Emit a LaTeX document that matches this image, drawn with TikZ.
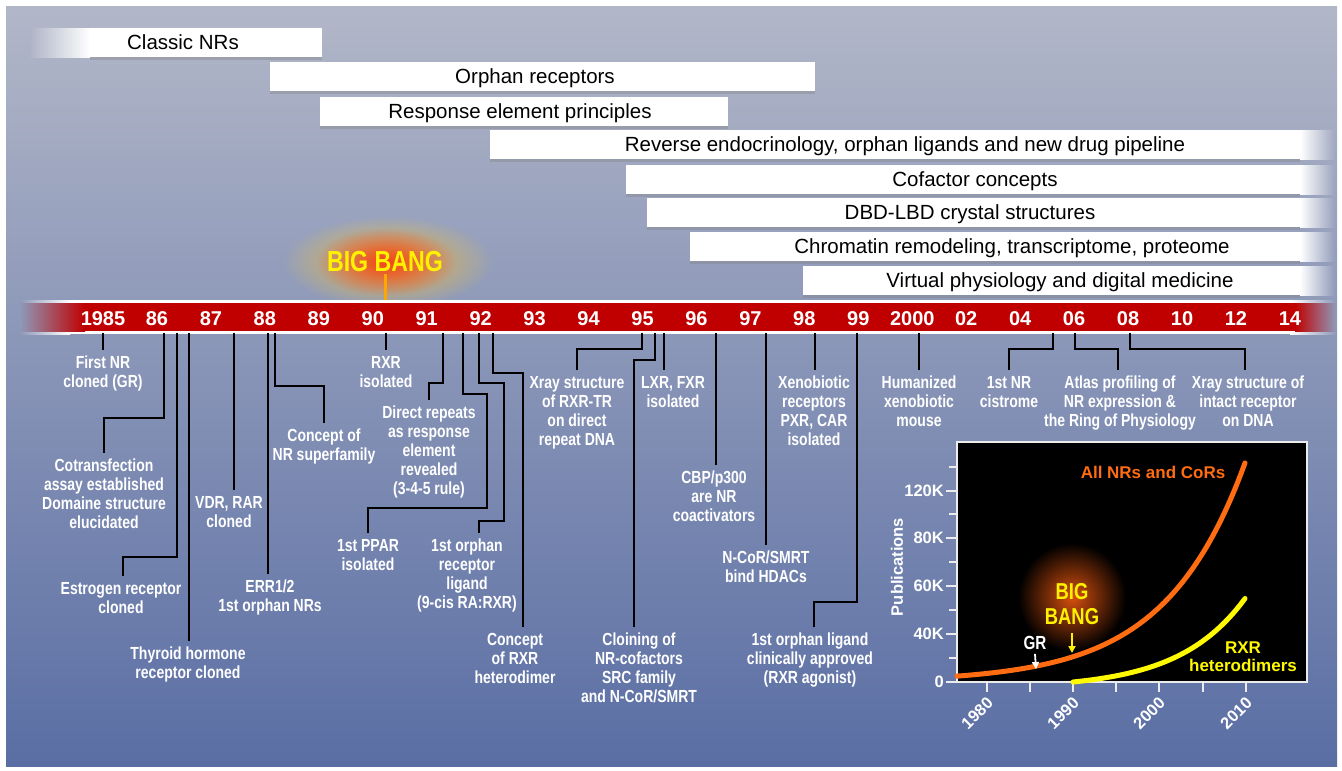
\documentclass[tikz,border=0pt]{standalone}
\usepackage{fontspec}
\setmainfont{Liberation Sans}
\newfontfamily\narrowfont{Liberation Sans}[FakeStretch=0.8]
\usetikzlibrary{arrows.meta,shadows,fadings}

\definecolor{bgtop}{RGB}{178,183,200}
\definecolor{bgbot}{RGB}{90,110,164}
\definecolor{barred}{RGB}{192,0,0}
\definecolor{bangyellow}{RGB}{255,242,0}
\definecolor{bangcore}{RGB}{240,70,30}
\definecolor{bangmid}{RGB}{240,150,40}
\definecolor{bangedge}{RGB}{236,205,70}
\definecolor{nrorange}{RGB}{255,108,18}
\definecolor{rxryellow}{RGB}{255,250,0}
\tikzfading[name=glowfade, inner color=transparent!0, outer color=transparent!100]

\begin{document}
\begin{tikzpicture}[x=1pt,y=-1pt,
  phase/.style={font=\fontsize{20.5}{20.5}\selectfont, text=black, inner sep=0pt, anchor=base},
  yearlbl/.style={font=\bfseries\fontsize{20}{20}\selectfont, text=white, inner sep=0pt, anchor=base},
  evt/.style={font=\narrowfont\bfseries\fontsize{17.5}{19}\selectfont, text=white, align=center, anchor=north, inner sep=0pt, outer sep=6pt},
  leader/.style={line width=2.2pt, black},
  tickln/.style={line width=2pt, white!85!gray},
  axlbl/.style={font=\bfseries\fontsize{16.5}{16.5}\selectfont, text=white, inner sep=1pt}]

\fill[white] (0,0) rectangle (1342,771);
\shade[top color=bgtop, bottom color=bgbot] (6,6) rectangle (1337,766);
\useasboundingbox (0,0) rectangle (1342,771);

% research phases
\shade[left color=bgbot!4!bgtop, right color=white] (30,28) rectangle (90,57);
\foreach \l/\r/\t/\cx/\txt [count=\k] in {
    90/322/28/183/{Classic NRs},
    270/815/62/535/{Orphan receptors},
    320/728/97/520/{Response element principles},
    490/1300/130/905/{Reverse endocrinology, orphan ligands and new drug pipeline},
    626/1300/165/975/{Cofactor concepts},
    647/1300/198/970/{DBD-LBD crystal structures},
    690/1300/232/1012/{Chromatin remodeling, transcriptome, proteome},
    803/1300/266/1060/{Virtual physiology and digital medicine}} {
  \fill[white, drop shadow={shadow xshift=0pt, shadow yshift=-3pt, opacity=.35}] (\l,\t) rectangle (\r,\t+29);
  \node[phase] (phase\k) at (\cx,\t+21.5) {\txt};
}
\foreach \t/\m in {130/18,165/23,198/27,232/32,266/36}
  \shade[left color=white, right color=bgbot!\m!bgtop] (1300,\t) rectangle (1334,\t+29);

% big bang
\shade[inner color=bangmid, outer color=bangedge, path fading=glowfade] (388,262) ellipse [x radius=105, y radius=46];
\fill[bangcore, path fading=glowfade] (386,262) ellipse [x radius=70, y radius=34];
\node[font=\narrowfont\bfseries\fontsize{29}{29}\selectfont, text=bangyellow, inner sep=0pt] (bigbang) at (385,262) {BIG BANG};
\coordinate (bar_top) at (385,301);
\draw[line width=3pt, orange!70!yellow] ([yshift=-2pt]bigbang.south) -- (bar_top);

% timeline bar
\shade[left color=bgbot!41!bgtop, right color=white] (20,300) rectangle (70,334);
\shade[left color=white, right color=bgbot!41!bgtop] (1290,300) rectangle (1336,334);
\fill[white] (70,300) rectangle (1290,334);
\fill[barred] (85,303) rectangle (1295,331);
\shade[left color=bgbot!41!bgtop, right color=barred] (20,303) rectangle (85,331);
\shade[left color=barred, right color=bgbot!41!bgtop] (1295,303) rectangle (1336,331);
\foreach \yr [count=\i from 0] in {1985,86,87,88,89,90,91,92,93,94,95,96,97,98,99,2000,02,04,06,08,10,12,14}
  \node[yearlbl] (yr_\yr) at ({103+53.95*\i},325) {\yr};

% events
\foreach \n/\x in {first/103, cotrans/164, estro/177, thyr/189, vdr/234, err/268, super/275, rxr/386,
    direct/443, ppar/463, olig/479, rxrhet/493, xtr/642, cof/655, lxr/664, cbp/716, hdac/766,
    xeno/815, clin/857, human/919, cist/1053, atlas/1075, xint/1130}
  \coordinate (s_\n) at (\x,333);

\node[evt] (ev_first) at (103,350) {First NR\\cloned (GR)};
\node[evt] (ev_cotrans) at (104,453) {Cotransfection\\assay established\\Domaine structure\\elucidated};
\node[evt] (ev_estro) at (121,576) {Estrogen receptor\\cloned};
\node[evt] (ev_thyr) at (188,641) {Thyroid hormone\\receptor cloned};
\node[evt] (ev_vdr) at (229,490) {VDR, RAR\\cloned};
\node[evt] (ev_err) at (270,574) {ERR1/2\\1st orphan NRs};
\node[evt] (ev_super) at (324,423) {Concept of\\NR superfamily};
\node[evt] (ev_rxr) at (386,350) {RXR\\isolated};
\node[evt] (ev_direct) at (429,400) {Direct repeats\\as response\\element\\revealed\\(3-4-5 rule)};
\node[evt] (ev_ppar) at (368,533) {1st PPAR\\isolated};
\node[evt] (ev_olig) at (467,533) {1st orphan\\receptor\\ligand\\(9-cis RA:RXR)};
\node[evt] (ev_rxrhet) at (515,627) {Concept\\of RXR\\heterodimer};
\node[evt] (ev_xtr) at (577,370) {Xray structure\\of RXR-TR\\on direct\\repeat DNA};
\node[evt] (ev_cof) at (639,627) {Cloining of\\NR-cofactors\\SRC family\\and N-CoR/SMRT};
\node[evt] (ev_lxr) at (673,370) {LXR, FXR\\isolated};
\node[evt] (ev_cbp) at (714,465) {CBP/p300\\are NR\\coactivators};
\node[evt] (ev_hdac) at (766,545) {N-CoR/SMRT\\bind HDACs};
\node[evt] (ev_xeno) at (814,370) {Xenobiotic\\receptors\\PXR, CAR\\isolated};
\node[evt] (ev_clin) at (810,627) {1st orphan ligand\\clinically approved\\(RXR agonist)};
\node[evt] (ev_human) at (919,370) {Humanized\\xenobiotic\\mouse};
\node[evt] (ev_cist) at (1009,370) {1st NR\\cistrome};
\node[evt] (ev_atlas) at (1120,370) {Atlas profiling of\\NR expression \&\\the Ring of Physiology};
\node[evt] (ev_xint) at (1248,370) {Xray structure of\\intact receptor\\on DNA};

\draw[leader] (s_first) -- (s_first |- ev_first.north);
\draw[leader] (s_cotrans) -- ++(0,85) -| (ev_cotrans.north);
\draw[leader] (s_estro) -- ++(0,224) -| ([xshift=2pt]ev_estro.north);
\draw[leader] (s_thyr) -- (s_thyr |- ev_thyr.north);
\draw[leader] (s_vdr) -- (s_vdr |- ev_vdr.north);
\draw[leader] (s_err) -- (s_err |- ev_err.north);
\draw[leader] (s_super) -- ++(0,53) -| (ev_super.north);
\draw[leader] (s_rxr) -- (s_rxr |- ev_rxr.north);
\draw[leader] (s_direct) -- ++(0,50) -| (ev_direct.north);
\draw[leader] (s_ppar) -- ++(0,61) -- ++(24,0) -- ++(0,114) -| (ev_ppar.north);
\draw[leader] (s_olig) -- ++(0,50) -- ++(25,0) -- ++(0,138) -| ([xshift=12pt]ev_olig.north);
\draw[leader] (s_rxrhet) -- ++(0,40) -| ([xshift=8pt]ev_rxrhet.north);
\draw[leader] (s_xtr) -- ++(0,16) -| (ev_xtr.north);
\draw[leader] (s_cof) -- ++(0,27) -| ([xshift=-5pt]ev_cof.north);
\draw[leader] (s_lxr) -- (s_lxr |- ev_lxr.north);
\draw[leader] (s_cbp) -- (s_cbp |- ev_cbp.north);
\draw[leader] (s_hdac) -- (s_hdac |- ev_hdac.north);
\draw[leader] (s_xeno) -- (s_xeno |- ev_xeno.north);
\draw[leader] (s_clin) -- ++(0,269) -| ([xshift=4pt]ev_clin.north);
\draw[leader] (s_human) -- (s_human |- ev_human.north);
\draw[leader] (s_cist) -- ++(0,16) -| (ev_cist.north);
\draw[leader] (s_atlas) -- ++(0,16) -| ([xshift=-2pt]ev_atlas.north);
\draw[leader] (s_xint) -- ++(0,16) -| ([xshift=-3pt]ev_xint.north);

% publications chart
\fill[black] (957,442) rectangle (1307,682);
\shade[inner color={rgb,255:red,215;green,80;blue,14}, outer color=black] (1072,597) circle [radius=54];
\draw[white!85!gray, line width=1.5pt] (957,442) rectangle (1307,682);
\foreach \v in {467,514,562,610,658}
  \draw[tickln] (949,\v) -- (957,\v);
\foreach \v/\lab in {682/0,634/40K,586/60K,538/80K,491/120K} {
  \draw[tickln] (946,\v) -- (957,\v);
  \node[axlbl, anchor=east] (yl_\lab) at (945,\v) {\lab};
}
\foreach \x in {987,1030,1073,1116,1159,1203,1246}
  \draw[tickln] (\x,682) -- (\x,692);
\foreach \yr/\x in {1980/987,1990/1073,2000/1159,2010/1246}
  \node[axlbl, rotate=45] (xl_\yr) at (\x-10,713) {\yr};
\node[axlbl, rotate=90] (ylab) at (897,567) {Publications};

\draw[nrorange, line width=5pt, line cap=round] plot[domain=1.5:35, samples=60, smooth] ({944+8.6*\x},{682-5*exp(0.108*\x)});
\draw[rxryellow, line width=5pt, line cap=round] plot[domain=0:20, samples=40, smooth] ({1073+8.6*\x},{682-6.7*(exp(0.13*\x)-1)});
\node[font=\bfseries\fontsize{17}{17}\selectfont, text=nrorange] (lab_all) at (1153,472) {All NRs and CoRs};
\node[font=\bfseries\fontsize{17}{18}\selectfont, text=rxryellow, align=center] (lab_rxr) at (1243,657) {RXR\\heterodimers};

\node[font=\narrowfont\bfseries\fontsize{23}{25}\selectfont, text=bangyellow, align=center, inner sep=0pt] (bb_small) at (1072,604) {BIG\\BANG};
\coordinate (bb_tip) at (1072,653);
\draw[-{Triangle[length=7pt,width=7pt]}, line width=1.8pt, bangyellow] ([yshift=-8pt]bb_small.south) -- (bb_tip);
\node[font=\narrowfont\bfseries\fontsize{19}{19}\selectfont, text=white, inner sep=0pt] (gr) at (1035,643) {GR};
\coordinate (gr_tip) at (1036,669);
\draw[-{Triangle[length=7pt,width=7pt]}, line width=1.8pt, white] ([yshift=-4pt]gr.south) -- (gr_tip);
\end{tikzpicture}
\end{document}
